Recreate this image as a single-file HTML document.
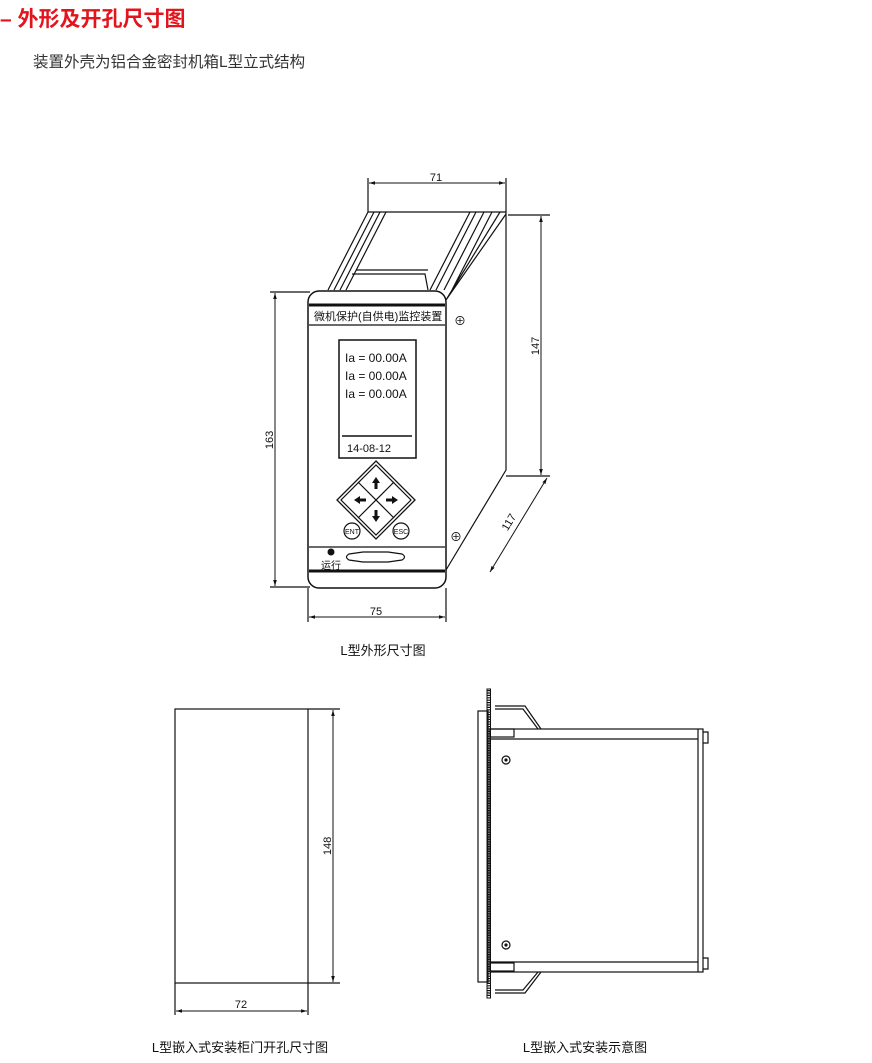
<!DOCTYPE html>
<html><head><meta charset="utf-8"><style>
body{margin:0;background:#fff;width:872px;height:1063px;overflow:hidden}
svg{display:block}
text{font-family:"Liberation Sans","Noto Sans CJK SC",sans-serif}
</style></head><body>
<svg width="872" height="1063" viewBox="0 0 872 1063">
<defs><marker id="a" viewBox="0 0 10 10" refX="10" refY="5" markerWidth="6" markerHeight="6" orient="auto-start-reverse"><path d="M0,2 L10,5 L0,8z" fill="#111"/></marker></defs>
<text x="0" y="26" font-size="21" font-weight="bold" fill="#e3141c">– 外形及开孔尺寸图</text>
<text x="33" y="67" font-size="15.5" fill="#333">装置外壳为铝合金密封机箱L型立式结构</text>
<g stroke="#111" fill="none" stroke-width="1.2">
<!-- top view body -->
<path d="M368,212 L506,212 L506,470 L446,570"/>
<path d="M368,212 L328,290 M374,212 L334,290 M380,212 L340,290 M386,212 L346,290"/>
<path d="M470,212 L430,290 M476,212 L436,290 M484,212 L444,290 M492,212 L452,290 M500,212 L446,300 M506,214 L446,300"/>
<path d="M352,274 L425,274 L428,290 M356,270 L428,270"/>
<rect x="308" y="291" width="138" height="297" rx="11" fill="#fff" stroke-width="1.5"/>
<line x1="309" y1="305" x2="445" y2="305" stroke-width="3"/>
<line x1="309" y1="325" x2="445" y2="325"/>
<rect x="339" y="340" width="77" height="118" stroke-width="1.5"/>
<line x1="342" y1="436" x2="412" y2="436" stroke-width="1.5"/>
<path d="M376,461 L415,500 L376,539 L337,500z" stroke-width="1.3"/>
<path d="M376,465 L411,500 L376,535 L341,500z"/>
<path d="M358,482 L394,518 M394,482 L358,518"/>
<circle cx="352" cy="531" r="8"/><circle cx="401" cy="531" r="8"/>
<line x1="309" y1="547" x2="445" y2="547"/>
<line x1="309" y1="571" x2="445" y2="571" stroke-width="3"/>
<path d="M349,554 L363,552 L388,552 L402,554 Q407,557 402,560 L388,562 L363,562 L349,560 Q344,557 349,554z"/>
<!-- dims -->
<path d="M368,178 L368,212 M506,178 L506,212"/>
<line x1="369" y1="183" x2="505" y2="183" marker-start="url(#a)" marker-end="url(#a)" stroke-width="1"/>
<path d="M508,215 L550,215 M506,476 L550,476"/>
<line x1="541" y1="216" x2="541" y2="475" marker-start="url(#a)" marker-end="url(#a)" stroke-width="1"/>
<path d="M270,292 L310,292 M270,587 L310,587"/>
<line x1="275" y1="293" x2="275" y2="586" marker-start="url(#a)" marker-end="url(#a)" stroke-width="1"/>
<path d="M308,588 L308,622 M446,588 L446,622"/>
<line x1="309" y1="617" x2="445" y2="617" marker-start="url(#a)" marker-end="url(#a)" stroke-width="1"/>
<line x1="490" y1="572" x2="547" y2="478" marker-start="url(#a)" marker-end="url(#a)" stroke-width="1"/>
<!-- cutout -->
<rect x="175" y="709" width="133" height="274"/>
<path d="M308,709 L340,709 M308,983 L340,983 M175,983 L175,1015 M308,983 L308,1015"/>
<line x1="333" y1="710" x2="333" y2="982" marker-start="url(#a)" marker-end="url(#a)" stroke-width="1"/>
<line x1="176" y1="1011" x2="307" y2="1011" marker-start="url(#a)" marker-end="url(#a)" stroke-width="1"/>
<!-- side view -->
<rect x="478" y="711" width="10" height="271"/>
<rect x="487" y="689" width="3.5" height="309" stroke-width="1"/>
<path d="M488.5,690 v307" stroke-dasharray="1.2 1.2" stroke-width="3"/>
<rect x="490" y="729" width="213" height="243"/>
<path d="M490,739 L698,739 M490,962 L698,962 M698,729 L698,972"/>
<path d="M703,732 h5 v11 h-5 M703,958 h5 v11 h-5"/>
<path d="M495,706 L525,706 L541,729 M495,709 L523,709 L538,729"/>
<path d="M495,993 L525,993 L541,972 M495,990 L523,990 L538,972"/>
<rect x="490" y="729" width="24" height="8"/>
<rect x="490" y="963" width="24" height="8"/>
<circle cx="506" cy="760" r="4"/><circle cx="506" cy="945" r="4"/>
</g>
<g fill="#111">
<circle cx="506" cy="760" r="1.6"/><circle cx="506" cy="945" r="1.6"/>
<circle cx="331" cy="552" r="3.5"/>
<path d="M376,477 l-4,6 h2.5 v6 h3 v-6 h2.5z M376,522 l-4,-6 h2.5 v-6 h3 v6 h2.5z M354,500 l6,-4 v2.5 h6 v3 h-6 v2.5z M398,500 l-6,-4 v2.5 h-6 v3 h6 v2.5z"/>
</g>
<g font-size="11" fill="#111">
<text x="314" y="320" font-size="11">微机保护(自供电)监控装置</text>
<text x="345" y="362" font-size="12">Ia = 00.00A</text>
<text x="345" y="380" font-size="12">Ia = 00.00A</text>
<text x="345" y="398" font-size="12">Ia = 00.00A</text>
<text x="347" y="452" font-size="11">14-08-12</text>
<text x="352" y="534" font-size="7" text-anchor="middle">ENT</text>
<text x="401" y="534" font-size="7" text-anchor="middle">ESC</text>
<text x="321" y="569" font-size="10">运行</text>
<text x="454" y="325" font-size="12">⊕</text>
<text x="450" y="541" font-size="12">⊕</text>
<text x="436" y="181" text-anchor="middle">71</text>
<text x="376" y="615" text-anchor="middle">75</text>
<text transform="translate(539,346) rotate(-90)" text-anchor="middle">147</text>
<text transform="translate(273,440) rotate(-90)" text-anchor="middle">163</text>
<text transform="translate(512,524) rotate(-59)" text-anchor="middle">117</text>
<text transform="translate(331,846) rotate(-90)" text-anchor="middle">148</text>
<text x="241" y="1008" text-anchor="middle">72</text>
<text x="383" y="655" font-size="13" text-anchor="middle">L型外形尺寸图</text>
<text x="240" y="1052" font-size="13" text-anchor="middle">L型嵌入式安装柜门开孔尺寸图</text>
<text x="585" y="1052" font-size="13" text-anchor="middle">L型嵌入式安装示意图</text>
</g>
</svg>
</body></html>
